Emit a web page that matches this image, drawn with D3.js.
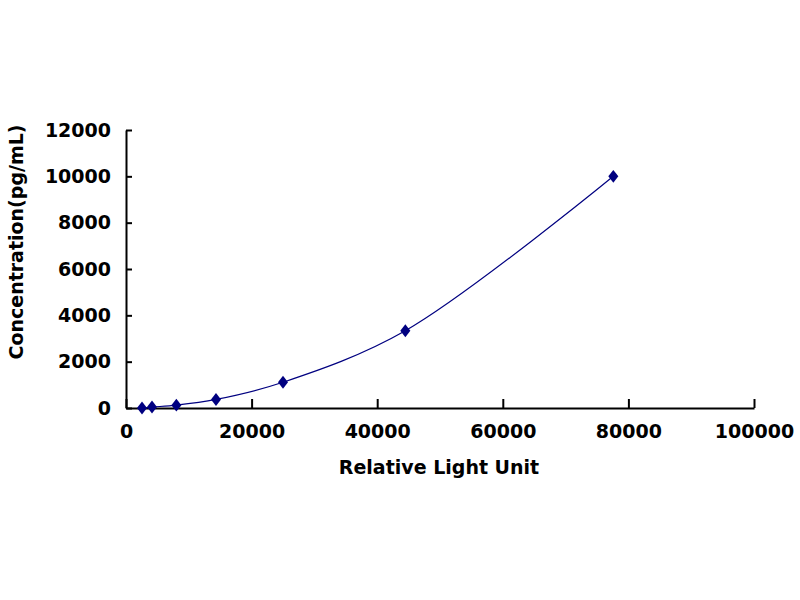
<!DOCTYPE html>
<html lang="en">
<head>
<meta charset="UTF-8">
<title>Standard Curve</title>
<style>
  body { margin: 0; background: #fff; }
  svg text { font-family: "DejaVu Sans", sans-serif; font-weight: bold; fill: #000; }
</style>
</head>
<body>
<svg id="chart"></svg>
<script src="https://d3js.org/d3.v7.min.js"></script>
<script>
// standard points
const rlu = [2550, 4140, 8020, 14330, 25000, 44480, 77600];
const conc = [0, 41, 123, 370, 1111, 3333, 10000];
const xTicks = [0, 20000, 40000, 60000, 80000, 100000];
const yTicks = [0, 2000, 4000, 6000, 8000, 10000, 12000];

const width = 800, height = 600;
const plotLeft = 126, plotRight = 754, plotTop = 130, plotBottom = 408;
const navy = "#000080";

const svg = d3.select("#chart")
    .attr("width", width)
    .attr("height", height);

const x = d3.scaleLinear().domain([0, 100000]).range([plotLeft, plotRight]);
const y = d3.scaleLinear().domain([0, 12000]).range([plotBottom, plotTop]);

// x axis, ticks pointing up into the plot
const xAxis = svg.append("g")
    .attr("transform", `translate(0,${plotBottom})`)
    .call(d3.axisBottom(x).tickValues(xTicks).tickFormat(d3.format("d"))
        .tickSizeInner(-9).tickSizeOuter(0).tickPadding(20));
xAxis.select(".domain").attr("stroke", "#000").attr("stroke-width", 2);
xAxis.selectAll(".tick line").attr("stroke", "#000").attr("stroke-width", 2);
xAxis.selectAll(".tick text").attr("dy", "0.5em");

// y axis, ticks pointing right into the plot
const yAxis = svg.append("g")
    .attr("transform", `translate(${plotLeft},0)`)
    .call(d3.axisLeft(y).tickValues(yTicks).tickFormat(d3.format("d"))
        .tickSizeInner(-6).tickSizeOuter(0).tickPadding(15));
yAxis.select(".domain").attr("stroke", "#000").attr("stroke-width", 2);
yAxis.selectAll(".tick line").attr("stroke", "#000").attr("stroke-width", 2);

svg.selectAll(".tick text")
    .attr("font-size", null)
    .attr("font-family", null)
    .style("font-size", "19px");

// smooth fitted curve
const pts = rlu.map((v, i) => [v, conc[i]]);
const line = d3.line()
    .x(d => x(d[0]))
    .y(d => y(d[1]))
    .curve(d3.curveCatmullRom.alpha(0.5));

svg.append("path")
    .datum(pts)
    .attr("d", line)
    .attr("fill", "none")
    .attr("stroke", navy)
    .attr("stroke-width", 1.2);

// diamond markers
svg.selectAll(".pt")
    .data(pts)
    .enter()
    .append("path")
    .attr("class", "pt")
    .attr("d", d3.symbol(d3.symbolDiamond, 48))
    .attr("transform", d => `translate(${x(d[0])},${y(d[1])}) scale(1.35,1)`)
    .attr("fill", navy);

// axis titles
svg.append("text")
    .attr("x", 439)
    .attr("y", 474)
    .attr("text-anchor", "middle")
    .style("font-size", "19px")
    .text("Relative Light Unit");

svg.append("text")
    .attr("transform", "translate(23,242) rotate(-90)")
    .attr("text-anchor", "middle")
    .style("font-size", "19px")
    .text("Concentration(pg/mL)");
</script>
</body>
</html>
